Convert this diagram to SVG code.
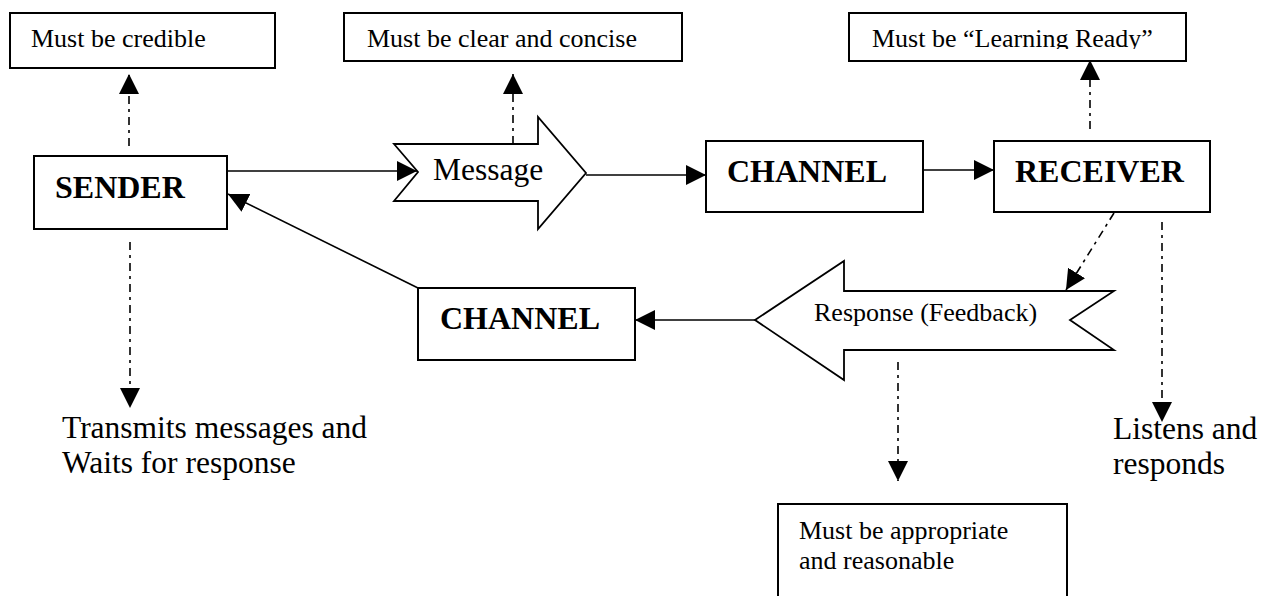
<svg xmlns="http://www.w3.org/2000/svg" width="1269" height="596" viewBox="0 0 1269 596">
<style>
.box{fill:#fff;stroke:#000;stroke-width:2}
.shape{fill:#fff;stroke:#000;stroke-width:1.8}
.big{font-family:"Liberation Serif","Times New Roman",serif;font-size:32px;font-weight:bold;fill:#000}
.med{font-family:"Liberation Serif","Times New Roman",serif;font-size:31.5px;fill:#000}
.sm{font-family:"Liberation Serif","Times New Roman",serif;font-size:26px;fill:#000}
.solid{stroke:#000;stroke-width:1.6;fill:none;marker-end:url(#ah)}
.dd{stroke:#000;stroke-width:1.6;fill:none;stroke-dasharray:8 5 3 5;marker-end:url(#ah)}
</style>
<defs>
<marker id="ah" markerUnits="userSpaceOnUse" markerWidth="20" markerHeight="20" refX="20" refY="10" orient="auto" viewBox="0 0 20 20">
<path d="M0,0 L20,10 L0,20 Z" fill="#000"/>
</marker>
<clipPath id="clipLR"><rect x="849" y="13" width="337" height="36"/></clipPath>
</defs>
<rect width="1269" height="596" fill="#fff"/>

<g id="connectors">
<line class="solid" x1="227" y1="171" x2="417" y2="171"/>
<line class="solid" x1="586" y1="175" x2="706" y2="175"/>
<line class="solid" x1="923" y1="170" x2="994" y2="170"/>
<line class="solid" x1="755" y1="320" x2="635" y2="320"/>
<line class="solid" x1="418" y1="288" x2="228" y2="194"/>
<line class="dd" x1="129" y1="146" x2="129" y2="74"/>
<line class="dd" x1="513" y1="144" x2="513" y2="74"/>
<line class="dd" x1="1090" y1="129" x2="1090" y2="60"/>
<line class="dd" x1="130" y1="242" x2="130" y2="408"/>
<line class="dd" x1="1114" y1="213" x2="1066" y2="290"/>
<line class="dd" x1="1162" y1="222" x2="1162" y2="422"/>
<line class="dd" x1="898" y1="362" x2="898" y2="481"/>
</g>

<g id="note-credible">
<rect class="box" x="10" y="13" width="265" height="55"/>
<text class="sm" x="31" y="47">Must be credible</text>
</g>
<g id="note-clear">
<rect class="box" x="344" y="13" width="338" height="48"/>
<text class="sm" x="367" y="47">Must be clear and concise</text>
</g>
<g id="note-ready">
<rect class="box" x="849" y="13" width="337" height="48"/>
<text class="sm" x="872" y="47" clip-path="url(#clipLR)">Must be “Learning Ready”</text>
</g>

<g id="sender">
<rect class="box" x="34" y="156" width="193" height="73"/>
<text class="big" x="55" y="198">SENDER</text>
</g>
<g id="message">
<path class="shape" d="M394,144 L538,144 L538,117 L586,173 L538,229 L538,201 L394,201 L418,172 Z"/>
<text class="med" x="433" y="180">Message</text>
</g>
<g id="channel-top">
<rect class="box" x="706" y="141" width="217" height="71"/>
<text class="big" x="727" y="182">CHANNEL</text>
</g>
<g id="receiver">
<rect class="box" x="994" y="141" width="216" height="71"/>
<text class="big" x="1015" y="182">RECEIVER</text>
</g>
<g id="response">
<path class="shape" d="M755,320 L844,261 L844,291 L1114,291 L1070,320 L1114,350 L844,350 L844,380 Z"/>
<text class="sm" x="814" y="321">Response (Feedback)</text>
</g>
<g id="channel-bottom">
<rect class="box" x="418" y="288" width="217" height="72"/>
<text class="big" x="440" y="329">CHANNEL</text>
</g>
<g id="sender-note">
<text class="med" x="62" y="438">Transmits messages and</text>
<text class="med" x="62" y="473">Waits for response</text>
</g>
<g id="receiver-note">
<text class="med" x="1113" y="439">Listens and</text>
<text class="med" x="1113" y="474">responds</text>
</g>
<g id="note-appropriate">
<rect class="box" x="778" y="504" width="289" height="110"/>
<text class="sm" x="799" y="539">Must be appropriate</text>
<text class="sm" x="799" y="569">and reasonable</text>
</g>
</svg>
